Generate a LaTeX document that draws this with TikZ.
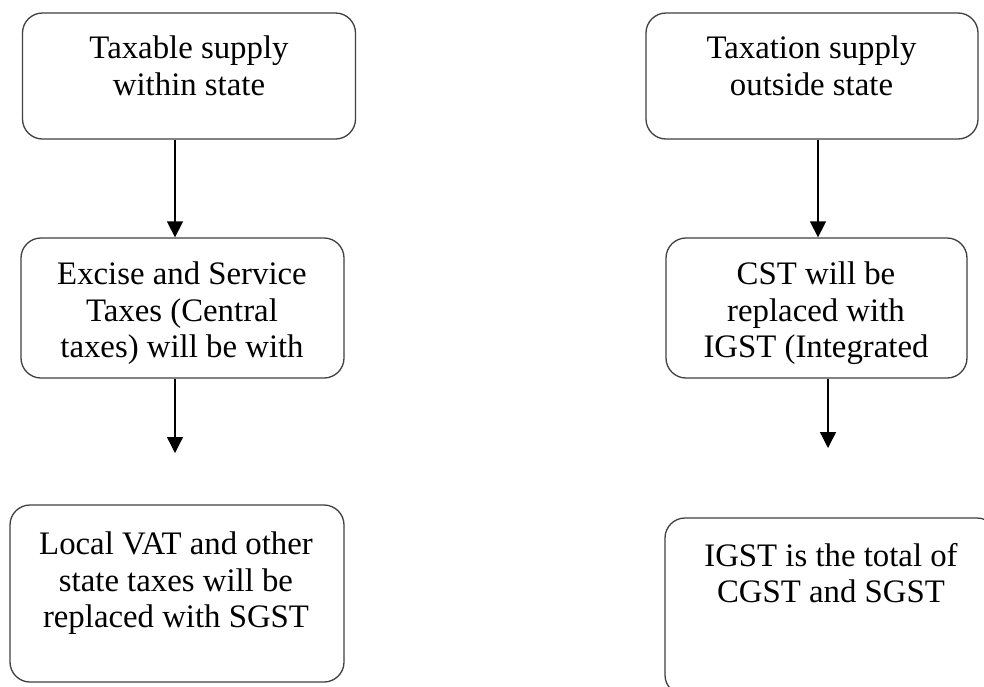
\documentclass[tikz,border=0pt]{standalone}
\usepackage{fontspec}
\setmainfont{Liberation Serif}
\usetikzlibrary{arrows.meta}
\begin{document}
\begin{tikzpicture}[x=1pt,y=-1pt,
  box/.style={draw=black!75,line width=1.3pt,rounded corners=20pt,inner sep=0pt},
  txt/.style={anchor=north,align=center,inner sep=0pt,font=\fontsize{32.8}{36.5}\selectfont},
  arr/.style={draw=black,line width=1.3pt,-{Triangle[length=16pt,width=16pt]}}]
\clip (0,0) rectangle (984,686);
\fill[white] (0,0) rectangle (984,686);
% boxes
\node[box,minimum width=333pt,minimum height=126pt] (b1) at (189,76) {};
\node[box,minimum width=323pt,minimum height=140pt] (b2) at (182.5,308) {};
\node[box,minimum width=334pt,minimum height=177pt] (b3) at (177,593.5) {};
\node[box,minimum width=332pt,minimum height=126pt] (r1) at (812,76) {};
\node[box,minimum width=301pt,minimum height=140pt] (r2) at (816.5,308) {};
\node[box,minimum width=332pt,minimum height=177pt] (r3) at (831,606.5) {};
% texts
\node[txt] (t1) at (189,36) {Taxable supply\\within state};
\node[txt] (t2) at (182,262) {Excise and Service\\Taxes (Central\\taxes) will be with};
\node[txt] (t3) at (176,532) {Local VAT and other\\state taxes will be\\replaced with SGST};
\node[txt] (s1) at (811.5,36) {Taxation supply\\outside state};
\node[txt] (s2) at (816,262) {CST will be\\replaced with\\IGST (Integrated};
\node[txt] (s3) at (831,543) {IGST is the total of\\CGST and SGST};
% connectors
\coordinate (c1) at (175,0);
\coordinate (e2) at (175,453);
\coordinate (c3) at (818,0);
\coordinate (e4) at (828,448);
\draw[arr] (b1.south -| c1) -- (b2.north -| c1);
\draw[arr] (b2.south -| e2) -- (e2);
\draw[arr] (r1.south -| c3) -- (r2.north -| c3);
\draw[arr] (r2.south -| e4) -- (e4);
\end{tikzpicture}
\end{document}
